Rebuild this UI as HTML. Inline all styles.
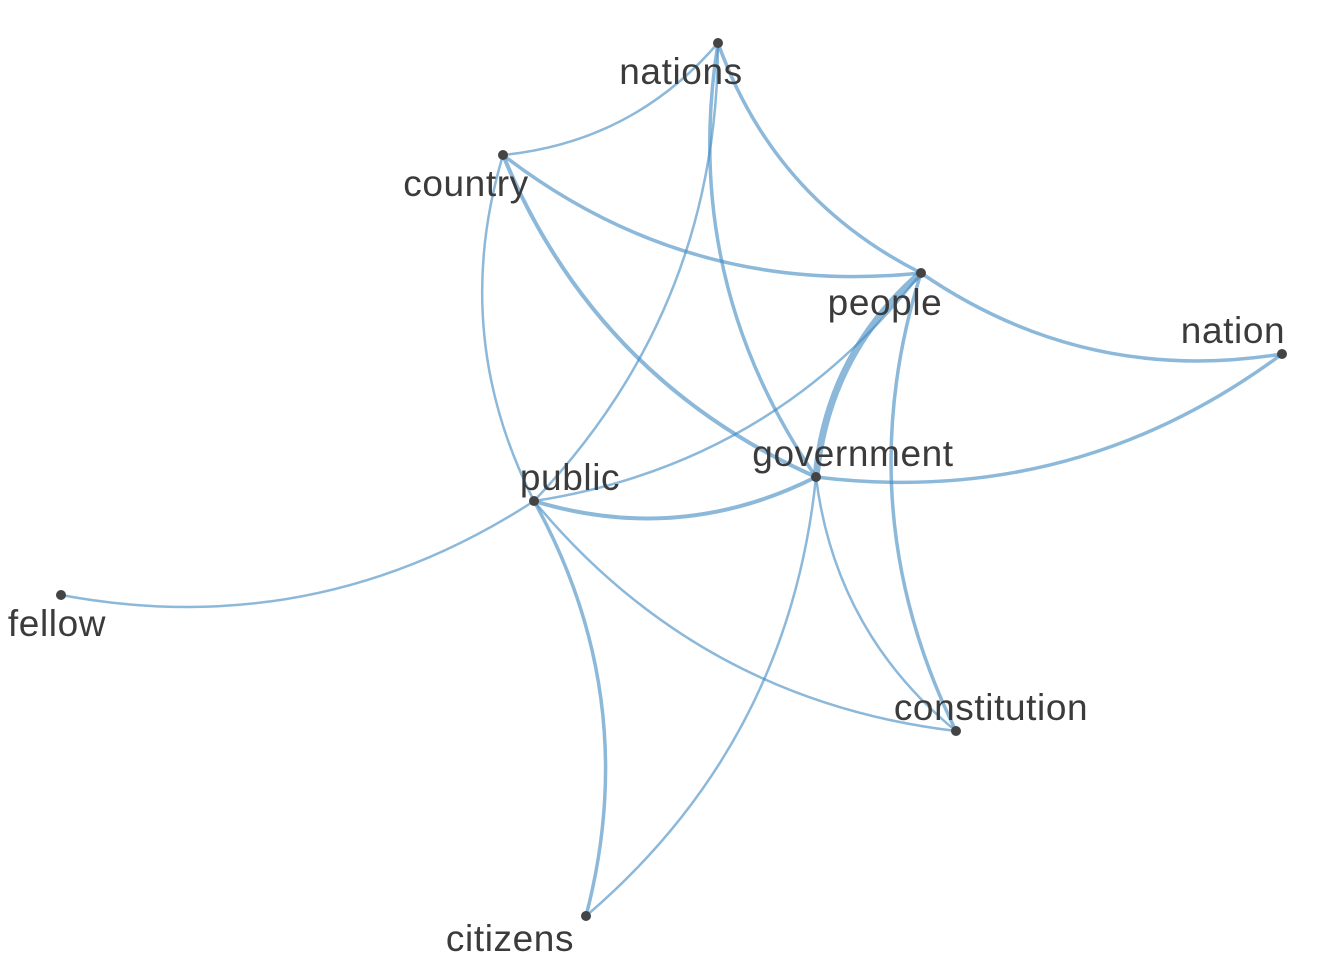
<!DOCTYPE html>
<html><head><meta charset="utf-8"><style>
body{margin:0;background:#fff;}
svg{display:block;font-family:"Liberation Sans",sans-serif;}
</style></head><body>
<svg id="chart" width="1344" height="960" viewBox="0 0 1344 960">
<g id="edges"></g>
<g id="nodes"></g>
<g id="labels"></g>
</svg>
<script>
const nodeNames = ["nations","country","people","nation","government","public","fellow","constitution","citizens"];
const nodeX = [718,503,921,1282,816,534,61,956,586];
const nodeY = [43,155,273,354,477,501,595,731,916];
const labelX = [681,466,885,1233,853,570,57,991,510];
const labelY = [72,184,303,331,454,478,624,708,939];
const edgeFrom = ["nations","people","government","nations","people","government","public","nation","government","people","constitution","nation","government","constitution","government","constitution","public","public"];
const edgeTo   = ["country","nations","nations","public","country","country","country","people","people","public","people","government","public","government","citizens","public","citizens","fellow"];
const edgeWeight = [2.5,3.5,3.5,2.5,3.5,4,2.5,3.5,7,2.5,3.5,3.5,4,2.5,2.5,2.5,3.5,2.5];
const NS="http://www.w3.org/2000/svg";
const idx = n => nodeNames.indexOf(n);
const eg=document.getElementById('edges'), ng=document.getElementById('nodes'), lg=document.getElementById('labels');
edgeFrom.forEach((f,i)=>{
  const a=idx(f), b=idx(edgeTo[i]);
  const x1=nodeX[a],y1=nodeY[a],x2=nodeX[b],y2=nodeY[b];
  const dx=x2-x1, dy=y2-y1, k=0.2;
  const cx=(x1+x2)/2+k*dy, cy=(y1+y2)/2-k*dx;
  const p=document.createElementNS(NS,'path');
  p.setAttribute('d',`M${x1},${y1} Q${cx},${cy} ${x2},${y2}`);
  p.setAttribute('fill','none');
  p.setAttribute('stroke','rgba(70,140,195,0.62)');
  p.setAttribute('stroke-width',edgeWeight[i]);
  
  
  eg.appendChild(p);
});
nodeNames.forEach((n,i)=>{
  const c=document.createElementNS(NS,'circle');
  c.setAttribute('cx',nodeX[i]);c.setAttribute('cy',nodeY[i]);c.setAttribute('r',5);
  c.setAttribute('fill','#444');
  
  
  ng.appendChild(c);
  const t=document.createElementNS(NS,'text');
  t.setAttribute('x',labelX[i]);t.setAttribute('y',labelY[i]+12);
  t.setAttribute('text-anchor','middle');t.setAttribute('font-size','37');
  t.setAttribute('fill','#3b3b3b');
  t.setAttribute('letter-spacing','0.6');
  t.textContent=n;
  
  
  lg.appendChild(t);
});
</script>
</body></html>
